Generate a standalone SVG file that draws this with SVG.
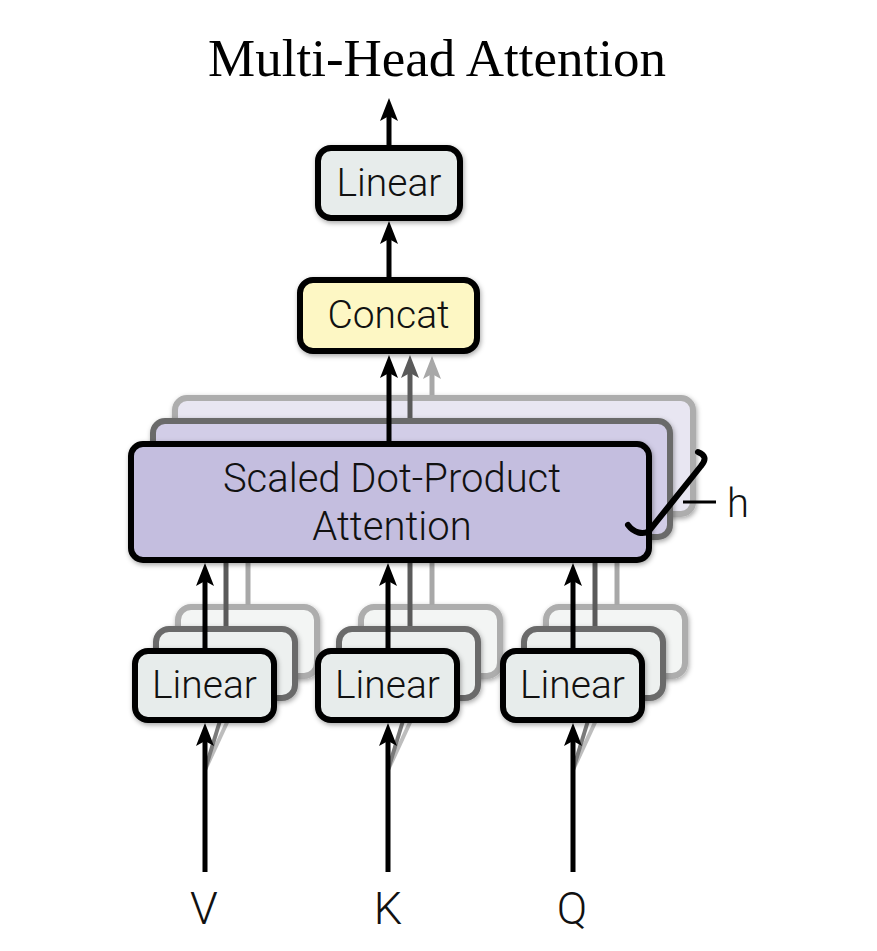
<svg xmlns="http://www.w3.org/2000/svg" width="877" height="951" viewBox="0 0 877 951">
<style>
.lbl{font-family:Roboto,"Liberation Sans",Arial,sans-serif;font-weight:300;fill:#111;text-anchor:middle}
.box{stroke:#000;stroke-width:6}
.lin{fill:#e7eceb}
.g1{stroke:#6b6b6b;stroke-width:6}
.g2{stroke:#adadad;stroke-width:6}
.cb{stroke:#000;stroke-width:5;fill:none}
.cd{stroke:#5a5a5a;stroke-width:5;fill:none}
.cl{stroke:#a8a8a8;stroke-width:5;fill:none}
</style>
<defs>
<filter id="sh" x="-10%" y="-20%" width="120%" height="140%">
<feDropShadow dx="1" dy="2" stdDeviation="2.5" flood-color="#000" flood-opacity="0.35"/>
</filter>
<marker id="ab" markerUnits="userSpaceOnUse" viewBox="-16 -10 26 20" markerWidth="26" markerHeight="20" refX="0" refY="0" orient="auto" overflow="visible">
<path d="M8,0 L-15,-9 L-10,0 L-15,9 Z" fill="#000"/>
</marker>
<marker id="ad" markerUnits="userSpaceOnUse" viewBox="-16 -10 26 20" markerWidth="26" markerHeight="20" refX="0" refY="0" orient="auto" overflow="visible">
<path d="M8,0 L-15,-9 L-10,0 L-15,9 Z" fill="#5a5a5a"/>
</marker>
<marker id="al" markerUnits="userSpaceOnUse" viewBox="-16 -10 26 20" markerWidth="26" markerHeight="20" refX="0" refY="0" orient="auto" overflow="visible">
<path d="M8,0 L-15,-9 L-10,0 L-15,9 Z" fill="#a8a8a8"/>
</marker>
</defs>
<rect width="877" height="951" fill="#fff"/>

<text x="437" y="76" font-family="'Liberation Serif','Times New Roman',serif" font-size="53" fill="#000" text-anchor="middle">Multi-Head Attention</text>

<!-- ghost (stacked) heads -->
<g id="linear-v-head3"><rect x="178" y="607" width="139" height="69" rx="13" class="g2" fill="#f3f5f4" filter="url(#sh)"/></g>
<g id="linear-v-head2"><rect x="156" y="629" width="139" height="69" rx="13" class="g1" fill="#edf0ef" filter="url(#sh)"/></g>
<g id="linear-k-head3"><rect x="361" y="607" width="139" height="69" rx="13" class="g2" fill="#f3f5f4" filter="url(#sh)"/></g>
<g id="linear-k-head2"><rect x="339" y="629" width="139" height="69" rx="13" class="g1" fill="#edf0ef" filter="url(#sh)"/></g>
<g id="linear-q-head3"><rect x="546" y="607" width="139" height="69" rx="13" class="g2" fill="#f3f5f4" filter="url(#sh)"/></g>
<g id="linear-q-head2"><rect x="524" y="629" width="139" height="69" rx="13" class="g1" fill="#edf0ef" filter="url(#sh)"/></g>
<g id="attention-head3"><rect x="175" y="398" width="518" height="116" rx="12" class="g2" fill="#e8e6f2" filter="url(#sh)"/></g>
<g id="attention-head2"><rect x="153" y="421" width="517" height="116" rx="12" class="g1" fill="#d2cde7" filter="url(#sh)"/></g>

<g id="connectors">
<line x1="205" y1="770" x2="248" y2="677" stroke="#bdbdbd" stroke-width="4"/>
<line x1="205" y1="770" x2="226" y2="701" stroke="#7a7a7a" stroke-width="4"/>
<line x1="388" y1="770" x2="431" y2="677" stroke="#bdbdbd" stroke-width="4"/>
<line x1="388" y1="770" x2="409" y2="701" stroke="#7a7a7a" stroke-width="4"/>
<line x1="573" y1="770" x2="616" y2="677" stroke="#bdbdbd" stroke-width="4"/>
<line x1="573" y1="770" x2="594" y2="701" stroke="#7a7a7a" stroke-width="4"/>
<line x1="248" y1="605" x2="248" y2="517" class="cl"/>
<line x1="226" y1="626" x2="226" y2="540" class="cd"/>
<line x1="432" y1="605" x2="432" y2="517" class="cl"/>
<line x1="410" y1="626" x2="410" y2="540" class="cd"/>
<line x1="617" y1="605" x2="617" y2="517" class="cl"/>
<line x1="595" y1="626" x2="595" y2="540" class="cd"/>
<line x1="432" y1="395" x2="432" y2="364" class="cl" marker-end="url(#al)"/>
<line x1="410" y1="418" x2="410" y2="363" class="cd" marker-end="url(#ad)"/>
<line x1="389" y1="441" x2="389" y2="363" class="cb" marker-end="url(#ab)"/>
<line x1="389" y1="277" x2="389" y2="229" class="cb" marker-end="url(#ab)"/>
<line x1="389" y1="145" x2="389" y2="106" class="cb" marker-end="url(#ab)"/>
<line x1="205" y1="648" x2="205" y2="571" class="cb" marker-end="url(#ab)"/>
<line x1="388" y1="648" x2="388" y2="571" class="cb" marker-end="url(#ab)"/>
<line x1="573" y1="648" x2="573" y2="571" class="cb" marker-end="url(#ab)"/>
<line x1="205" y1="872" x2="205" y2="731" class="cb" marker-end="url(#ab)"/>
<line x1="388" y1="872" x2="388" y2="731" class="cb" marker-end="url(#ab)"/>
<line x1="573" y1="872" x2="573" y2="731" class="cb" marker-end="url(#ab)"/>
</g>

<g id="attention">
<rect x="131" y="444" width="518" height="116" rx="12" class="box" fill="#c4bedf" filter="url(#sh)"/>
<text class="lbl" x="392" y="492" font-size="40">Scaled Dot-Product</text>
<text class="lbl" x="392" y="540" font-size="40">Attention</text>
</g>

<g id="concat">
<rect x="300" y="280" width="177" height="71" rx="13" class="box" fill="#fdf7c4" filter="url(#sh)"/>
<text class="lbl" x="388.5" y="328" font-size="39">Concat</text>
</g>

<g id="linear-out">
<rect x="318" y="148" width="142" height="70" rx="13" class="box lin" filter="url(#sh)"/>
<text class="lbl" x="389" y="196" font-size="39">Linear</text>
</g>

<g id="linear-v">
<rect x="135" y="651" width="139" height="69" rx="13" class="box lin" filter="url(#sh)"/>
<text class="lbl" x="204.5" y="698" font-size="39">Linear</text>
</g>
<g id="linear-k">
<rect x="318" y="651" width="139" height="69" rx="13" class="box lin" filter="url(#sh)"/>
<text class="lbl" x="387.5" y="698" font-size="39">Linear</text>
</g>
<g id="linear-q">
<rect x="503" y="651" width="139" height="69" rx="13" class="box lin" filter="url(#sh)"/>
<text class="lbl" x="572.5" y="698" font-size="39">Linear</text>
</g>

<g id="h-brace">
<path d="M628,525 C634,533 643,535 649,531 L701,466 C707,459 705,455 698,452" fill="none" stroke="#000" stroke-width="6" stroke-linecap="round" stroke-linejoin="round"/>
<line x1="683" y1="502" x2="716" y2="502" stroke="#000" stroke-width="3"/>
<text class="lbl" x="738" y="517" font-size="40">h</text>
</g>

<g id="inputs">
<text class="lbl" x="204" y="924" font-size="45">V</text>
<text class="lbl" x="388" y="924" font-size="45">K</text>
<text class="lbl" x="572" y="924" font-size="45">Q</text>
</g>
</svg>
